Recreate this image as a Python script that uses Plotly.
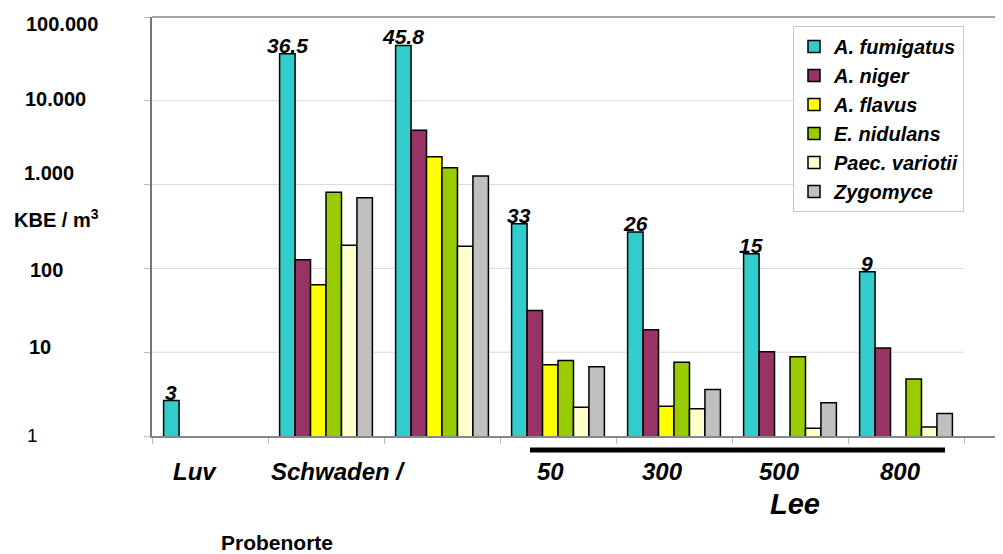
import math
import plotly.graph_objects as go

# ---------------- data ----------------
categories = ["Luv", "Schwaden A", "Schwaden B", "50", "300", "500", "800"]
series_names = ["A. fumigatus", "A. niger", "A. flavus", "E. nidulans", "Paec. variotii", "Zygomyce"]
a_fumigatus = [2.65, 36500, 45800, 340, 272, 150, 91]
a_niger = [None, 127, 4450, 31.5, 18.5, 10.1, 11.2]
a_flavus = [None, 64, 2150, 7.1, 2.27, None, None]
e_nidulans = [None, 813, 1590, 7.96, 7.6, 8.8, 4.8]
paec_variotii = [None, 189, 184, 2.2, 2.12, 1.24, 1.28]
zygomyce = [None, 697, 1265, 6.7, 3.58, 2.5, 1.85]
value_labels = ["3", "36.5", "45.8", "33", "26", "15", "9"]
x_tick_labels = ["Luv", "Schwaden /", "", "50", "300", "500", "800"]
y_tick_values = [1, 10, 100, 1000, 10000, 100000]
y_tick_labels = ["1", "10", "100", "1.000", "10.000", "100.000"]
grid_values = [10, 100, 1000, 10000]

# ---------------- style ----------------
colors = ["#33CCCC", "#993366", "#FFFF00", "#99CC00", "#FFFFCC", "#C0C0C0"]
FONT = "Liberation Sans, Arial, sans-serif"
OFF = 8                      # default page body margin
W, H = 1003 - OFF, 554 - OFF
L, T, B = 152 - OFF, 17 - OFF, 436 - OFF   # plot area edges (figure px)
PW, PH = W - L, B - T


def px(x_ref):
    return (x_ref - OFF - L) / PW


def py(y_ref):
    return (B - (y_ref - OFF)) / PH


series = [a_fumigatus, a_niger, a_flavus, e_nidulans, paec_variotii, zygomyce]

fig = go.Figure()
for name, vals, col in zip(series_names, series, colors):
    fig.add_trace(go.Bar(
        x=categories, y=vals, name=name,
        marker=dict(color=col, line=dict(color="black", width=1.5)),
        hoverinfo="x+y+name",
    ))

cat_w = 116.0
x_max = -0.5 + PW / cat_w

annotations = []
# value labels above A. fumigatus bars
for i, (lab, v) in enumerate(zip(value_labels, a_fumigatus)):
    annotations.append(dict(
        x=i - 1 / 3, y=math.log10(v), xref="x", yref="y",
        text=lab, showarrow=False, xanchor="center", yanchor="bottom", yshift=-5,
        font=dict(family=FONT, size=21, color="black", weight="bold", style="italic"),
    ))

# category labels under the axis
x_label_shift = [-15, 12, 0, -8, -12, -11, -6]
for i, (lab, sh) in enumerate(zip(x_tick_labels, x_label_shift)):
    if lab:
        annotations.append(dict(
            x=i, y=py(471), xref="x", yref="paper", xshift=sh,
            text=lab, showarrow=False, xanchor="center", yanchor="middle",
            font=dict(family=FONT, size=24, color="black", weight="bold", style="italic"),
        ))

annotations.append(dict(
    x=px(795), y=py(504), xref="paper", yref="paper", text="Lee", showarrow=False,
    xanchor="center", yanchor="middle",
    font=dict(family=FONT, size=29, color="black", weight="bold", style="italic"),
))
annotations.append(dict(
    x=px(277), y=py(542), xref="paper", yref="paper", text="Probenorte", showarrow=False,
    xanchor="center", yanchor="middle",
    font=dict(family=FONT, size=21, color="black", weight="bold"),
))

# y tick labels (left side)
y_label_pos = [(32, 435), (40, 347), (46, 270), (49, 173), (55, 99), (62, 24)]
for lab, (xc, yc) in zip(y_tick_labels, y_label_pos):
    annotations.append(dict(
        x=px(xc), y=py(yc), xref="paper", yref="paper", text=lab, showarrow=False,
        xanchor="center", yanchor="middle",
        font=dict(family=FONT, size=20 if lab != "1" else 19, color="black",
                  weight="bold" if lab != "1" else "normal"),
    ))
annotations.append(dict(
    x=px(56), y=py(218), xref="paper", yref="paper", text="KBE / m<sup>3</sup>", showarrow=False,
    xanchor="center", yanchor="middle",
    font=dict(family=FONT, size=20, color="black", weight="bold"),
))

shapes = []
for gv in grid_values:
    yy = math.log10(gv) / 5.0
    shapes.append(dict(type="line", xref="x", yref="paper", x0=-0.5, x1=6.5, y0=yy, y1=yy,
                       line=dict(color="#D9D9D9", width=1), layer="below"))
# top border
shapes.append(dict(type="line", xref="paper", yref="paper", x0=0, x1=1, y0=1, y1=1,
                   line=dict(color="#888888", width=1.5)))
# thick "Lee" bracket line
shapes.append(dict(type="line", xref="paper", yref="paper", x0=px(530), x1=px(945),
                   y0=py(450), y1=py(450), line=dict(color="black", width=5)))

fig.update_layout(
    width=W, height=H,
    margin=dict(l=L, r=0, t=T, b=H - B, pad=0),
    paper_bgcolor="white", plot_bgcolor="white",
    barmode="group", bargap=0.2, bargroupgap=0,
    showlegend=True,
    legend=dict(
        x=px(793), y=py(26), xanchor="left", yanchor="top",
        bgcolor="white", bordercolor="#C8C8C8", borderwidth=1,
        font=dict(family=FONT, size=20, color="black", weight="bold", style="italic"),
        itemwidth=30, traceorder="normal",
    ),
    xaxis=dict(
        type="category", range=[-0.5, x_max], showgrid=False, showticklabels=False,
        showline=True, linecolor="#888888", linewidth=1.5,
        ticks="outside", tickson="boundaries", ticklen=6, tickcolor="#BBBBBB", tickwidth=1,
        zeroline=False,
    ),
    yaxis=dict(
        type="log", range=[0, 5], showgrid=False, showticklabels=False,
        tickvals=y_tick_values, ticks="outside", ticklen=6, tickcolor="#BBBBBB",
        showline=True, linecolor="#777777", linewidth=1.5, zeroline=False,
    ),
    annotations=annotations,
    shapes=shapes,
)

fig.write_html("out.html")
